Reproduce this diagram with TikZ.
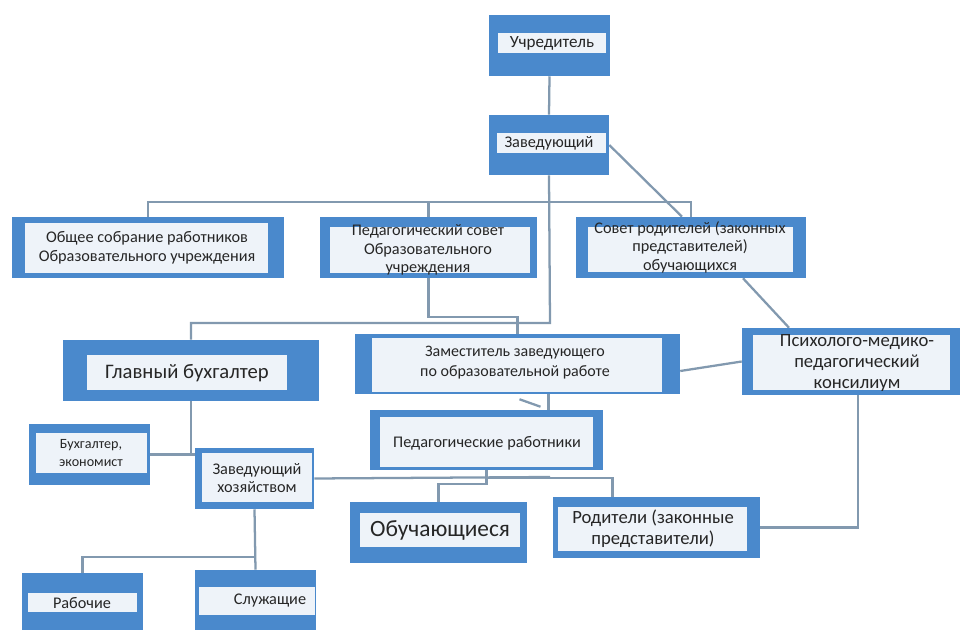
\documentclass[tikz,border=0pt]{standalone}
\usepackage{fontspec}
\setmainfont{Carlito}
\usetikzlibrary{fit,calc}
\pgfdeclarelayer{paper}
\pgfdeclarelayer{bg}
\pgfsetlayers{paper,bg,main}
\definecolor{frameblue}{HTML}{4A89CC}
\definecolor{innerfill}{HTML}{EEF3F9}
\definecolor{linec}{HTML}{8299AF}
\definecolor{textc}{HTML}{262626}
\tikzset{
  outerbox/.style={fill=frameblue, inner sep=0pt, draw=none},
  innerbox/.style={fill=innerfill, inner sep=0pt, draw=none},
  txt/.style={align=center, inner sep=0pt, text=textc, font=\fontsize{12.2}{13.8}\selectfont},
  smalltxt/.style={font=\fontsize{10.6}{14}\selectfont},
  midtxt/.style={font=\fontsize{12}{15}\selectfont},
  ppktxt/.style={font=\fontsize{14}{16}\selectfont},
  rodtxt/.style={font=\fontsize{14}{15.5}\selectfont},
  bigtxt/.style={font=\fontsize{15.5}{18}\selectfont},
  hugetxt/.style={font=\fontsize{17.5}{20}\selectfont},
  conn/.style={draw=linec, line width=1.7pt},
}
\newcommand\obox[8]{%
  \node[outerbox, fit={#2 #3}] (#1) {};
  \node[innerbox, fit={#4 #5}] (#1i) {};
  \node[txt,#7] (#1t) at #6 {#8};
}
\begin{document}
\begin{tikzpicture}[x=0.75pt,y=-0.75pt]
\begin{pgfonlayer}{paper}
\fill[white] (0,0) rectangle (961,630);
\end{pgfonlayer}
\useasboundingbox (0,0) rectangle (961,630);

\obox{uch}{(489,15)}{(610,76)}{(498,33)}{(606,53)}{(552,43)}{font=\fontsize{12.8}{14}\selectfont}{Учредитель}
\obox{zav}{(489,115)}{(609,175)}{(497,133)}{(606,153)}{(549,143)}{}{Заведующий}
\obox{os}{(12,217)}{(284,278)}{(25,223)}{(268,273)}{(147,248)}{}{Общее собрание работников\\Образовательного учреждения}
\obox{ps}{(320,217)}{(537,278)}{(330,227)}{(530,273)}{(428,250)}{}{Педагогический совет\\Образовательного\\учреждения}
\obox{sr}{(576,217)}{(806,278)}{(588,227)}{(793,272)}{(690,247)}{}{Совет родителей (законных\\представителей)\\обучающихся}
\obox{gb}{(63,340)}{(319,401)}{(87,355)}{(287,390)}{(187,373)}{bigtxt}{Главный бухгалтер}
\obox{zam}{(355,334)}{(680,394)}{(372,338)}{(662,392)}{(515,363)}{midtxt}{Заместитель заведующего\\по образовательной работе}
\obox{ppk}{(742,328)}{(960,395)}{(753,335)}{(950,390)}{(857,363)}{ppktxt}{Психолого-медико-\\педагогический\\консилиум}
\obox{pw}{(370,410)}{(603,470)}{(380,417)}{(593,467)}{(487,443)}{}{Педагогические работники}
\obox{buh}{(29,424)}{(150,485)}{(36,433)}{(147,473)}{(91,453)}{smalltxt}{Бухгалтер,\\экономист}
\obox{zh}{(195,448)}{(314,509)}{(202,453)}{(312,502)}{(257,478)}{}{Заведующий\\хозяйством}
\obox{ob}{(350,502)}{(527,563)}{(360,513)}{(520,547)}{(440,530)}{hugetxt}{Обучающиеся}
\obox{rod}{(553,497)}{(760,558)}{(558,507)}{(747,551)}{(653,529)}{rodtxt}{Родители (законные\\представители)}
\obox{ra}{(22,573)}{(143,632)}{(28,593)}{(137,612)}{(82,603)}{}{Рабочие}
\obox{sl}{(195,570)}{(316,632)}{(199,587)}{(315,615)}{(270,601)}{}{Служащие}

\coordinate (bus) at (550,202);
\coordinate (j1) at (550,323);
\coordinate (zhend) at (550,477);

\begin{pgfonlayer}{bg}
\draw[conn] (uch.south) -- (zav.north);
\draw[conn] (zav.south) -- (j1) -| (gb.north);
\draw[conn] (os.north) |- (bus) -| (sr.north);
\draw[conn] (ps.north) -- (ps.north |- bus);
\draw[conn] (zav.east) -- ($(sr.north)+(-9,0)$);
\draw[conn] (ps.south) -- ++(0,39) -| (zam.north);
\draw[conn] ($(sr.south)+(52,0)$) -- ($(ppk.north)+(-62,0)$);
\draw[conn] ($(zam.east)+(0,7)$) -- (ppk.west);
\draw[conn] ($(zam.south)+(31,0)$) -- ($(pw.north)+(62,0)$);
\draw[conn] ($(zam.south)+(2,5)$) -- ($(pw.north)+(54,-3)$);
\draw[conn] (pw.south) -- ++(0,8) -| ($(rod.north)+(-44,0)$);
\draw[conn] (pw.south) -- ++(0,14) -| (ob.north);
\draw[conn] (zh.east) -- (zhend);
\draw[conn] (gb.south) |- (buh.east);
\draw[conn] (gb.south |- buh.east) -- (zh.west |- buh.east);
\draw[conn] (zh.south) -- (sl.north);
\draw[conn] ($(zh.south)+(0,48)$) -| (ra.north);
\draw[conn] ($(ppk.south)+(7,0)$) |- (rod.east);
\end{pgfonlayer}
\end{tikzpicture}
\end{document}
